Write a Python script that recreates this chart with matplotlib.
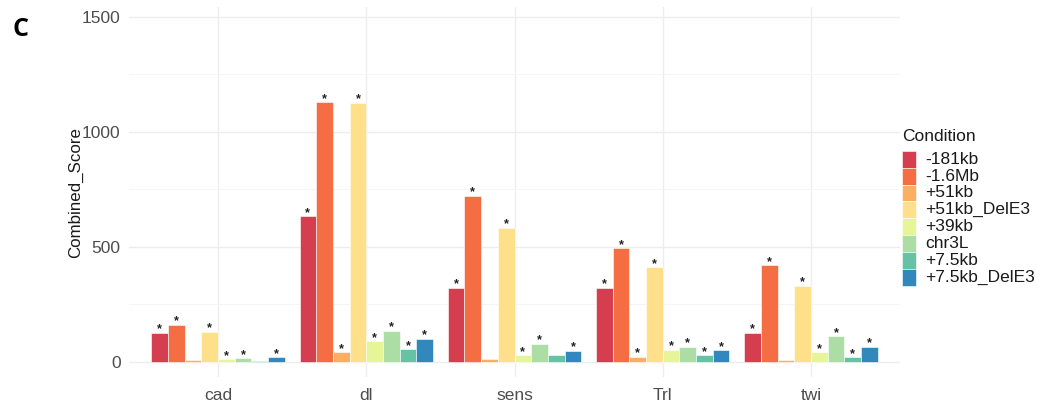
import numpy as np
import matplotlib
matplotlib.use("Agg")
import matplotlib.pyplot as plt
from matplotlib.patches import Rectangle

plt.rcParams['font.family'] = ['Liberation Sans', 'DejaVu Sans']

# data
genes = ['cad', 'dl', 'sens', 'Trl', 'twi']
conditions = ['-181kb', '-1.6Mb', '+51kb', '+51kb_DelE3', '+39kb',
              'chr3L', '+7.5kb', '+7.5kb_DelE3']
colors = ['#D53E4F', '#F46D43', '#FDAE61', '#FEE08B', '#E6F598',
          '#ABDDA4', '#66C2A5', '#3288BD']

score_cad = [126, 161, 8, 130, 10, 16, 4, 18]
score_dl = [632, 1127, 41, 1125, 90, 134, 54, 100]
score_sens = [321, 722, 12, 583, 28, 77, 28, 47]
score_trl = [321, 493, 22, 410, 51, 65, 29, 50]
score_twi = [126, 420, 9, 330, 42, 110, 18, 64]

sig_cad = [1, 1, 0, 1, 1, 1, 0, 1]
sig_dl = [1, 1, 1, 1, 1, 1, 1, 1]
sig_sens = [1, 1, 0, 1, 1, 1, 0, 1]
sig_trl = [1, 1, 1, 1, 1, 1, 1, 1]
sig_twi = [1, 1, 0, 1, 1, 1, 1, 1]

scores = np.array([score_cad, score_dl, score_sens, score_trl, score_twi])
sigs = np.array([sig_cad, sig_dl, sig_sens, sig_trl, sig_twi])

W, H = 1039, 404
fig = plt.figure(figsize=(W / 100, H / 100), dpi=100)
ax = fig.add_axes([129 / W, 1 - 377 / H, (900 - 129) / W, (377 - 7) / H])

x = np.arange(1, len(genes) + 1)
n = len(conditions)
bw = 0.9 / n
for j in range(n):
    xs = x - 0.45 + bw * (j + 0.5)
    ax.bar(xs, scores[:, j], width=bw, color=colors[j], edgecolor='white',
           linewidth=0.4, zorder=3)
    for k in range(len(genes)):
        if sigs[k, j]:
            ax.annotate('*', (xs[k], scores[k, j]), xytext=(0, -2),
                        textcoords='offset points', ha='center', va='bottom',
                        fontsize=9, fontweight='bold', color='#222222',
                        zorder=4)

ax.set_xlim(0.4, 5.6)
ax.set_ylim(-67, 1542)
ax.set_xticks(x)
ax.set_xticklabels(genes)
ax.set_yticks([0, 500, 1000, 1500])
ax.set_yticks([250, 750, 1250], minor=True)
ax.tick_params(axis='both', which='both', length=0, labelsize=12.5,
               labelcolor='#4D4D4D')
ax.tick_params(axis='y', pad=6)
ax.tick_params(axis='x', pad=8)
ax.grid(True, which='major', color='#EDEDED', linewidth=1.0, zorder=0)
ax.grid(True, which='minor', axis='y', color='#F4F4F4', linewidth=0.6, zorder=0)
for s in ax.spines.values():
    s.set_visible(False)
ax.set_ylabel('Combined_Score', fontsize=12.2, color='#1A1A1A', labelpad=-1)

# panel letter
fig.text(12 / W, 1 - 30 / H, 'C', fontsize=18, fontweight='bold',
         family=['Open Sans', 'DejaVu Sans'], va='center', ha='left')

# legend, drawn by hand to match ggplot key spacing
fig.text(902 / W, 1 - 136 / H, 'Condition', fontsize=12.5, va='center',
         ha='left', color='#1A1A1A')
key_h = 16.9
top = 150.7
for j, (lab, c) in enumerate(zip(conditions, colors)):
    y0 = top + j * key_h
    fig.patches.append(Rectangle((902 / W, 1 - (y0 + key_h) / H), 14 / W,
                                 key_h / H, transform=fig.transFigure,
                                 facecolor=c, edgecolor='white', linewidth=0.4))
    fig.text(925 / W, 1 - (y0 + key_h / 2) / H, lab, fontsize=12.5,
             va='center', ha='left', color='#1A1A1A')

fig.savefig('out.png', dpi=100)
